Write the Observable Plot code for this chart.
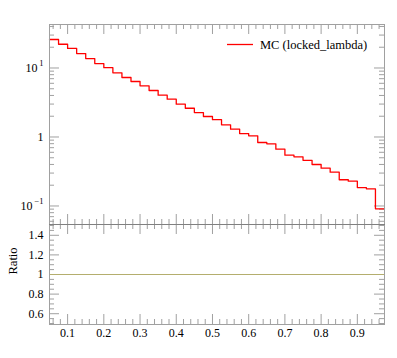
<!DOCTYPE html>
<html><head><meta charset="utf-8">
<script src="https://cdn.jsdelivr.net/npm/d3@7"></script>
<script src="https://cdn.jsdelivr.net/npm/@observablehq/plot@0.6"></script>
<style>
html,body{margin:0;padding:0;background:#fff;}
#wrap{position:relative;width:397px;height:358px;overflow:hidden;}
#wrap svg{position:absolute;left:0;display:block;}
</style></head><body><div id="wrap"></div>
<script>
// ---- data ----
const binLow = [0.05,0.075,0.1,0.125,0.15,0.175,0.2,0.225,0.25,0.275,0.3,0.325,0.35,0.375,0.4,0.425,0.45,0.475,0.5,0.525,0.55,0.575,0.6,0.625,0.65,0.675,0.7,0.725,0.75,0.775,0.8,0.825,0.85,0.875,0.9,0.925,0.95];
const lastBinHigh = 0.975;
const mcValues = [25.9,22.1,19.2,16.2,13.7,11.6,10.1,8.5,7.28,6.37,5.52,4.72,4.04,3.53,2.99,2.61,2.26,1.98,1.78,1.50,1.30,1.12,1.04,0.832,0.796,0.665,0.545,0.516,0.459,0.399,0.353,0.309,0.240,0.229,0.185,0.177,0.091];
const ratioValues = [1,1,1,1,1,1,1,1,1,1,1,1,1,1,1,1,1,1,1,1,1,1,1,1,1,1,1,1,1,1,1,1,1,1,1,1,1];
const xTickLabels = [0.1,0.2,0.3,0.4,0.5,0.6,0.7,0.8,0.9];
const xMinorTicks = [0.06,0.08,0.12,0.14,0.16,0.18,0.22,0.24,0.26,0.28,0.32,0.34,0.36,0.38,0.42,0.44,0.46,0.48,0.52,0.54,0.56,0.58,0.62,0.64,0.66,0.68,0.72,0.74,0.76,0.78,0.82,0.84,0.86,0.88,0.92,0.94,0.96];
const yMajorTicks = [0.1, 1, 10];
const yMinorTicks = [0.06,0.07,0.08,0.09,0.2,0.3,0.4,0.5,0.6,0.7,0.8,0.9,2,3,4,5,6,7,8,9,20,30,40];
const ratioTickLabels = [0.6,0.8,1,1.2,1.4];
const ratioMinorTicks = [0.5,0.55,0.65,0.7,0.75,0.85,0.9,0.95,1.05,1.1,1.15,1.25,1.3,1.35,1.45,1.5];
const legendLabel = "MC (locked_lambda)";
const ratioLabel = "Ratio";

// ---- style ----
const FONT = "'Liberation Serif', 'DejaVu Serif', serif";
const tickColor = "#a0a0a0";
const W = 397, ML = 49, MR = 13;
const plotW = W - ML - MR;

const mcPoints = binLow.map((x, i) => ({x, y: mcValues[i]})).concat([{x: lastBinHigh, y: mcValues[mcValues.length - 1]}]);
const ratioPoints = binLow.map((x, i) => ({x, y: ratioValues[i]})).concat([{x: lastBinHigh, y: ratioValues[ratioValues.length - 1]}]);

function xTickMarks(plotH, major, minor) {
  return [
    Plot.ruleX(major, {x: d => d, stroke: tickColor, insetBottom: plotH - 10}),
    Plot.ruleX(major, {x: d => d, stroke: tickColor, insetTop: plotH - 10}),
    Plot.ruleX(minor, {x: d => d, stroke: tickColor, insetBottom: plotH - 5}),
    Plot.ruleX(minor, {x: d => d, stroke: tickColor, insetTop: plotH - 5})
  ];
}
function yTickMarks(major, minor) {
  return [
    Plot.ruleY(major, {y: d => d, stroke: tickColor, insetRight: plotW - 10}),
    Plot.ruleY(major, {y: d => d, stroke: tickColor, insetLeft: plotW - 10}),
    Plot.ruleY(minor, {y: d => d, stroke: tickColor, insetRight: plotW - 5}),
    Plot.ruleY(minor, {y: d => d, stroke: tickColor, insetLeft: plotW - 5})
  ];
}

// ---- top panel ----
const topH = 225, topMT = 24, topMB = 1;
const mainPlot = Plot.plot({
  width: W, height: topH,
  marginTop: topMT, marginBottom: topMB, marginLeft: ML, marginRight: MR,
  style: {fontFamily: FONT, fontSize: "12px", background: "transparent", overflow: "visible"},
  x: {domain: [0.05, lastBinHigh], axis: null},
  y: {type: "log", domain: [0.0539, 42.7], axis: null},
  marks: [
    ...xTickMarks(topH - topMT - topMB, xTickLabels, xMinorTicks),
    ...yTickMarks(yMajorTicks, yMinorTicks),
    Plot.line(mcPoints, {x: "x", y: "y", curve: "step-after", stroke: "#ff0000", strokeWidth: 1.3}),
    Plot.frame({stroke: tickColor}),
    // y tick labels
    Plot.text([1], {y: d => d, frameAnchor: "left", dx: -6, textAnchor: "end", text: d => "1", fontSize: 12}),
    Plot.text([10], {y: d => d, frameAnchor: "left", dx: -12, textAnchor: "end", text: d => "10", fontSize: 12}),
    Plot.text([10], {y: d => d, frameAnchor: "left", dx: -6, dy: -5, textAnchor: "end", text: d => "1", fontSize: 8.5}),
    Plot.text([0.1], {y: d => d, frameAnchor: "left", dx: -17, textAnchor: "end", text: d => "10", fontSize: 12}),
    Plot.text([0.1], {y: d => d, frameAnchor: "left", dx: -6, dy: -5, textAnchor: "end", text: d => "\u22121", fontSize: 8.5})
  ]
});
mainPlot.style.top = "0px";

// legend
const tsel = d3.select(mainPlot);
tsel.append("line").attr("x1", 227).attr("x2", 253).attr("y1", 44.5).attr("y2", 44.5)
  .attr("stroke", "#ff0000").attr("stroke-width", 1.3);
tsel.append("text").attr("x", 260).attr("y", 48.5).attr("font-size", 12.5)
  .attr("text-anchor", "start")
  .attr("font-family", FONT).attr("fill", "#000").text(legendLabel);

// ---- ratio panel ----
const botTop = 223;
const botH = 358 - botTop, botMT = 1, botMB = 34;
const ratioPlot = Plot.plot({
  width: W, height: botH,
  marginTop: botMT, marginBottom: botMB, marginLeft: ML, marginRight: MR,
  style: {fontFamily: FONT, fontSize: "12px", background: "transparent", overflow: "visible"},
  x: {domain: [0.05, lastBinHigh], axis: null},
  y: {domain: [0.49, 1.51], axis: null},
  marks: [
    ...xTickMarks(botH - botMT - botMB, xTickLabels, xMinorTicks),
    ...yTickMarks(ratioTickLabels, ratioMinorTicks),
    Plot.line(ratioPoints, {x: "x", y: "y", curve: "step-after", stroke: "#b4ae6e", strokeWidth: 1.1}),
    Plot.frame({stroke: tickColor}),
    Plot.frame({anchor: "top", stroke: "#808080"}),
    Plot.text(ratioTickLabels, {y: d => d, frameAnchor: "left", dx: -6, textAnchor: "end", text: d => String(d), fontSize: 12}),
    Plot.text(xTickLabels, {x: d => d, frameAnchor: "bottom", dy: 12, text: d => String(d), fontSize: 12}),
    Plot.text([ratioLabel], {y: 1, frameAnchor: "left", dx: -37, rotate: -90, text: d => d, fontSize: 12.5})
  ]
});
ratioPlot.style.top = botTop + "px";

const wrap = document.getElementById("wrap");
wrap.appendChild(mainPlot);
wrap.appendChild(ratioPlot);
</script>
</body></html>
